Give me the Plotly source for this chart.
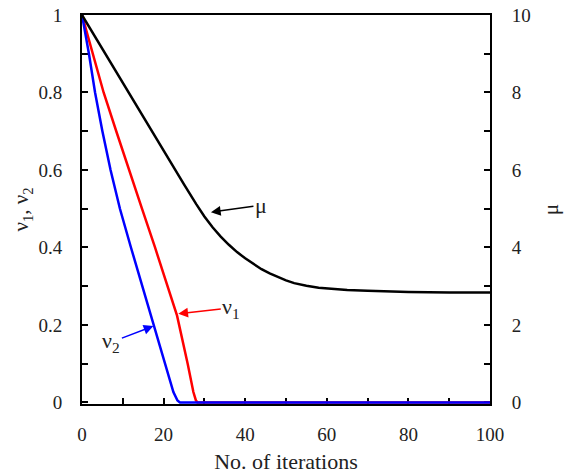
import plotly.graph_objects as go

# ---- data ----
iters_mu = [0, 5, 10, 15, 20, 25, 28, 30, 32, 34, 36, 38, 40, 42, 44, 46, 48, 50,
            52, 55, 58, 61, 65, 70, 75, 80, 90, 100]
mu = [10, 9.12, 8.25, 7.37, 6.50, 5.63, 5.12, 4.80, 4.52, 4.28, 4.07, 3.88, 3.72,
      3.57, 3.44, 3.33, 3.23, 3.15, 3.08, 3.01, 2.96, 2.93, 2.90, 2.88, 2.86,
      2.85, 2.84, 2.84]

iters_v1 = [0, 2.6, 5.3, 8.4, 11.5, 14.7, 17.9, 21.0, 23.3, 25.9, 27.3, 27.9, 28.3, 100]
v1 = [1.0, 0.9, 0.8, 0.7, 0.6, 0.5, 0.4, 0.3, 0.224, 0.1, 0.027, 0.006, 0.0, 0.0]

iters_v2 = [0, 1.7, 3.2, 5.0, 7.0, 9.3, 12.0, 14.8, 17.5, 20.0, 22.4, 23.4, 24.0, 100]
v2 = [1.0, 0.9, 0.8, 0.7, 0.6, 0.5, 0.4, 0.3, 0.2, 0.11, 0.027, 0.005, 0.0, 0.0]

x_ticks = [0, 20, 40, 60, 80, 100]
y1_ticks = [0, 0.2, 0.4, 0.6, 0.8, 1]
y2_ticks = [0, 2, 4, 6, 8, 10]

FONT = "Liberation Serif, Times New Roman, serif"
LW = 2.5
TXT = "#222222"
TICK_SIZE = 19

fig = go.Figure()
fig.add_trace(go.Scatter(x=iters_v1, y=v1, mode="lines",
                         line=dict(color="#ff0000", width=LW), name="v1"))
fig.add_trace(go.Scatter(x=iters_v2, y=v2, mode="lines",
                         line=dict(color="#0000ff", width=LW), name="v2"))
fig.add_trace(go.Scatter(x=iters_mu, y=mu, mode="lines", yaxis="y2",
                         line=dict(color="#000000", width=LW), name="mu"))

axis_common = dict(showgrid=False, zeroline=False, showline=True, automargin=False,
                   linecolor="black", linewidth=2, ticks="inside",
                   tickcolor="black", tickwidth=1.5, ticklen=6,
                   tickfont=dict(family=FONT, size=TICK_SIZE, color=TXT),
                   ticklabeloverflow="allow", layer="below traces")
minor_common = dict(ticks="inside", ticklen=6, tickcolor="black", tickwidth=1.5)

fig.update_layout(
    template="none",
    width=574, height=476,
    margin=dict(l=82, r=84, t=15, b=72, autoexpand=False),
    paper_bgcolor="white", plot_bgcolor="white",
    showlegend=False,
    font=dict(family=FONT, color=TXT, size=18),
    xaxis=dict(range=[0, 100], tickvals=x_ticks, mirror=True,
               minor=dict(dtick=10, **minor_common),
               ticklabelstandoff=12,
               title=dict(text="No. of iterations", font=dict(family=FONT, size=22, color=TXT),
                          standoff=10),
               **axis_common),
    yaxis=dict(range=[-0.004, 1], tickvals=y1_ticks,
               minor=dict(dtick=0.1, **minor_common),
               ticklabelstandoff=14,
               title=dict(text="ν<sub>1</sub>, ν<sub>2</sub>",
                          font=dict(family=FONT, size=21, color=TXT), standoff=4),
               **axis_common),
    yaxis2=dict(range=[-0.04, 10], tickvals=y2_ticks, overlaying="y", side="right",
                minor=dict(dtick=1, **minor_common),
                ticklabelstandoff=16,
                title=dict(text="μ", font=dict(family=FONT, size=21, color=TXT), standoff=14),
                **axis_common),
)

ann_font = dict(family=FONT, size=22, color=TXT)
fig.add_annotation(x=31.6, y=0.491, xref="x", yref="y", text="μ", font=ann_font,
                   showarrow=True, arrowhead=2, arrowsize=1.3, arrowwidth=1.5,
                   arrowcolor="black", ax=50, ay=-7)
fig.add_annotation(x=23.6, y=0.229, xref="x", yref="y", text="ν<sub>1</sub>", font=ann_font,
                   showarrow=True, arrowhead=2, arrowsize=1.3, arrowwidth=1.5,
                   arrowcolor="#ff0000", ax=53, ay=-6)
fig.add_annotation(x=17.5, y=0.197, xref="x", yref="y", text="ν<sub>2</sub>", font=ann_font,
                   showarrow=True, arrowhead=2, arrowsize=1.3, arrowwidth=1.5,
                   arrowcolor="#0000ff", ax=-42, ay=16)

fig.write_html("out.html", config={"displayModeBar": False},
               post_script="document.body.style.margin='0';")
